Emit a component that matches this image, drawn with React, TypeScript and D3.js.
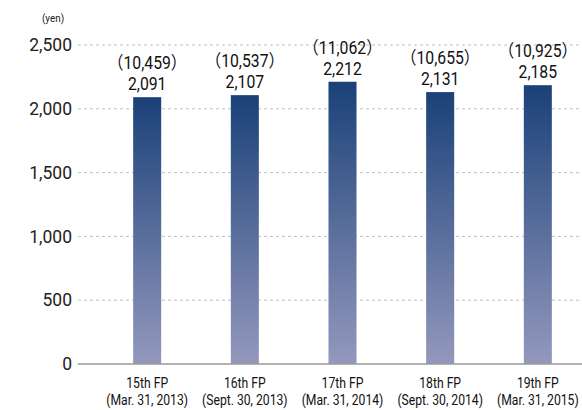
import React from "react";
import * as d3 from "d3";

const categories = ["15th FP", "16th FP", "17th FP", "18th FP", "19th FP"];
const periods = ["(Mar. 31, 2013)", "(Sept. 30, 2013)", "(Mar. 31, 2014)", "(Sept. 30, 2014)", "(Mar. 31, 2015)"];
const values = [2091, 2107, 2212, 2131, 2185];
const subValues = [10459, 10537, 11062, 10655, 10925];
const yTicks = [0, 500, 1000, 1500, 2000, 2500];

const W = 582;
const H = 410;
const margin = { left: 78 };

export default function App() {
  const x = d3
    .scaleBand<string>()
    .domain(categories)
    .range([98, 587])
    .paddingInner(0.713)
    .paddingOuter(0.36);
  const y = d3.scaleLinear().domain([0, 2500]).range([364, 45]);
  const fmt = d3.format(",");
  const font = "Roboto, 'Noto Sans CJK JP', sans-serif";

  return (
    <svg
      width={W}
      height={H}
      style={{ position: "absolute", left: 0, top: 0 }}
      fontFamily={font}
    >
      <defs>
        <linearGradient id="barGrad" x1="0" y1="0" x2="0" y2="1">
          <stop offset="0%" stopColor="#1a4178" />
          <stop offset="100%" stopColor="#9498bd" />
        </linearGradient>
      </defs>
      <g transform="translate(53,22) scale(0.9,1)">
        <text x={0} y={0} fontSize={11} textAnchor="middle" fill="#222">
          (yen)
        </text>
      </g>
      {yTicks.map((t) => (
        <g key={t}>
          {t > 0 && (
            <line
              x1={margin.left}
              x2={W}
              y1={y(t)}
              y2={y(t)}
              stroke="#b0b0b0"
              strokeWidth={0.8}
              strokeDasharray="3,3"
            />
          )}
          <text
            x={72}
            y={y(t)}
            dy="0.35em"
            fontSize={17.5}
            textAnchor="end"
            fill="#222"
          >
            {fmt(t)}
          </text>
        </g>
      ))}
      {categories.map((c, i) => {
        const bx = x(c)!;
        const cx = bx + x.bandwidth() / 2;
        return (
          <g key={c}>
            <rect
              x={bx}
              y={y(values[i])}
              width={x.bandwidth()}
              height={y(0) - y(values[i])}
              fill="url(#barGrad)"
            />
            <g transform={`translate(${cx},0) scale(0.9,1)`}>
              <text
                x={0}
                y={y(values[i]) - 7}
                fontSize={17.5}
                textAnchor="middle"
                fill="#111"
              >
                {fmt(values[i])}
              </text>
              <text
                x={0}
                y={y(values[i]) - 28}
                fontSize={17.5}
                textAnchor="middle"
                fill="#111"
              >
                {"（" + fmt(subValues[i]) + "）"}
              </text>
            </g>
            <g transform={`translate(${cx},0) scale(0.84,1)`}>
              <text x={0} y={388} fontSize={14.5} textAnchor="middle" fill="#111">
                {c}
              </text>
              <text x={0} y={405} fontSize={14.5} textAnchor="middle" fill="#111">
                {periods[i]}
              </text>
            </g>
          </g>
        );
      })}
      <line
        x1={margin.left}
        x2={W}
        y1={y(0)}
        y2={y(0)}
        stroke="#999"
        strokeWidth={1.5}
      />
    </svg>
  );
}
